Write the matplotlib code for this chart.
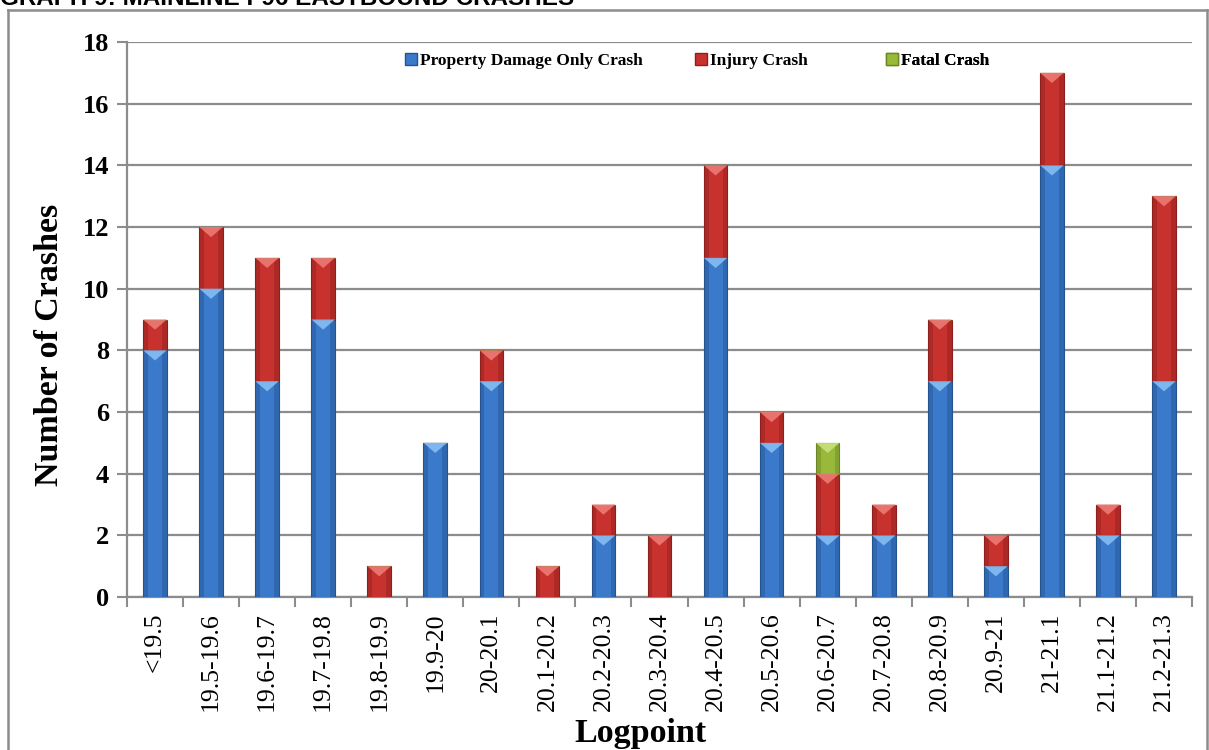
import numpy as np
import matplotlib
matplotlib.use("Agg")
import matplotlib.pyplot as plt
from matplotlib.lines import Line2D
from matplotlib.patches import Polygon, Patch

# crash counts by logpoint segment
logpoints = ["<19.5", "19.5-19.6", "19.6-19.7", "19.7-19.8", "19.8-19.9",
             "19.9-20", "20-20.1", "20.1-20.2", "20.2-20.3", "20.3-20.4",
             "20.4-20.5", "20.5-20.6", "20.6-20.7", "20.7-20.8", "20.8-20.9",
             "20.9-21", "21-21.1", "21.1-21.2", "21.2-21.3"]
pdo = [8, 10, 7, 9, 0, 5, 7, 0, 2, 0, 11, 5, 2, 2, 7, 1, 14, 2, 7]
injury = [1, 2, 4, 2, 1, 0, 1, 1, 1, 2, 3, 1, 2, 1, 2, 1, 3, 1, 6]
fatal = [0, 0, 0, 0, 0, 0, 0, 0, 0, 0, 0, 0, 1, 0, 0, 0, 0, 0, 0]

series = [
    ("Property Damage Only Crash", pdo, "#3b7acb", "#24538f", "#86bdf3"),
    ("Injury Crash", injury, "#c7322e", "#8e1f1c", "#ec7b76"),
    ("Fatal Crash", fatal, "#98b93a", "#6b8626", "#c9e07a"),
]

serif = "Liberation Serif"
grid_col = "#8c8c8c"
W, H = 1209, 750

fig = plt.figure(figsize=(W / 100, H / 100), dpi=100)
ax = fig.add_axes([0.105, 0.204, 0.881, 0.740])

x = np.arange(len(logpoints))
width = 0.42
bottom = np.zeros(len(logpoints))
handles = []
for name, vals, col, dark, light in series:
    vals = np.array(vals, dtype=float)
    ax.bar(x, vals, width, bottom=bottom, color=col, edgecolor=dark,
           linewidth=0.8, zorder=3)
    # darker side strips for the rounded look
    for side in (-1, 1):
        ax.bar(x + side * width * 0.4, vals, width * 0.2, bottom=bottom,
               color=dark, alpha=0.45, linewidth=0, zorder=3.1)
    # light bevel triangle at the top of every segment
    for xi, b, v in zip(x, bottom, vals):
        if v <= 0:
            continue
        top = b + v
        tri = Polygon([(xi - width / 2, top), (xi + width / 2, top),
                       (xi, top - 0.33)], closed=True, facecolor=light,
                      edgecolor="none", alpha=0.9, zorder=3.2)
        ax.add_patch(tri)
    bottom += vals
    handles.append(Patch(facecolor=col, edgecolor=dark, label=name))

ax.set_xlim(-0.5, len(logpoints) - 0.5)
ax.set_ylim(0, 18)
ax.set_yticks(np.arange(0, 19, 2))
ax.set_yticklabels([str(v) for v in range(0, 19, 2)],
                   fontfamily=serif, fontweight="bold", fontsize=19)
ax.set_xticks(x)
ax.set_xticklabels(logpoints, rotation=90, fontfamily=serif, fontsize=18.5,
                   va="top", ha="center")
ax.set_xticks(np.arange(-0.5, len(logpoints), 1), minor=True)
ax.tick_params(axis="x", which="major", length=0, pad=11)
ax.tick_params(axis="x", which="minor", length=7, width=1.5, color=grid_col)
ax.tick_params(axis="y", length=7, width=1.5, color=grid_col, pad=6)

ax.grid(axis="y", color=grid_col, linewidth=1.6, zorder=0)
ax.set_axisbelow(True)
for s in ("top", "right"):
    ax.spines[s].set_visible(False)
for s in ("left", "bottom"):
    ax.spines[s].set_color(grid_col)
    ax.spines[s].set_linewidth(1.6)

# axis titles placed in figure pixels
fig.text(50 / W, 1 - 345 / H, "Number of Crashes", rotation=90,
         fontfamily=serif, fontweight="bold", fontsize=24.5,
         ha="center", va="center")
fig.text(640 / W, 1 - 742 / H, "Logpoint", fontfamily=serif,
         fontweight="bold", fontsize=24.5, ha="center", va="baseline")

# legend entries sit in fixed-width slots, one small legend each
legend_x = [405, 695, 886]
for h, lx in zip(handles, legend_x):
    leg = ax.legend(handles=[h], loc="center left",
                    bbox_to_anchor=(lx / W, 1 - 61 / H),
                    bbox_transform=fig.transFigure, frameon=False,
                    prop={"family": serif, "weight": "bold", "size": 12.5},
                    handlelength=0.7, handleheight=0.7, handletextpad=0.15,
                    borderpad=0, borderaxespad=0)
    ax.add_artist(leg)

# outer chart frame
for xs, ys in (([8 / W, 8 / W], [0, 1 - 10 / H]),
               ([8 / W, 1207 / W], [1 - 10 / H, 1 - 10 / H]),
               ([1207 / W, 1207 / W], [0, 1 - 10 / H])):
    fig.add_artist(Line2D(xs, ys, transform=fig.transFigure,
                          color=grid_col, linewidth=1.8))

fig.text(0.0, 1 - 5 / H, "GRAPH 9: MAINLINE I-96 EASTBOUND CRASHES",
         fontfamily="Liberation Sans", fontweight="bold", fontsize=17.5,
         ha="left", va="baseline")

fig.savefig("out.png", dpi=100)
